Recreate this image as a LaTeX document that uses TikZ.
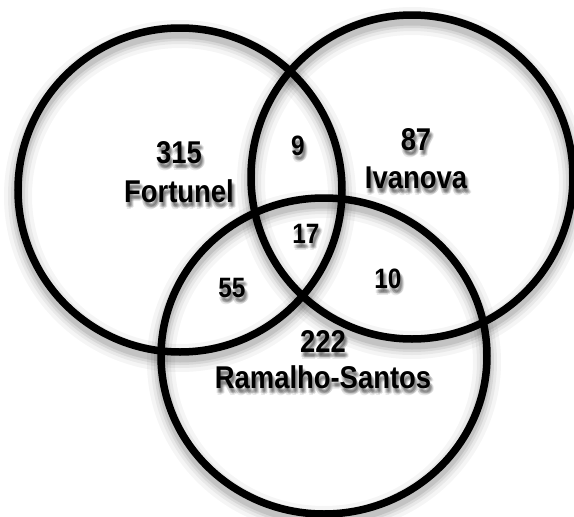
\documentclass[tikz,border=0pt]{standalone}
\usepackage{fontspec}
\newfontfamily\vf{Liberation Sans}[FakeStretch=0.87]
\tikzset{
  ring/.style={draw=black, line width=7.5pt},
  ringshadow/.style={draw=black, line width=#1},
  lbl/.style={anchor=base, inner sep=0pt, font=\vf\bfseries\fontsize{31.5}{31.5}\selectfont},
  num/.style={anchor=base, inner sep=0pt, font=\vf\bfseries\fontsize{28}{28}\selectfont},
}
\newcommand\cp[3]{\makebox[0pt][l]{\hspace*{#1pt}\raisebox{-#2pt}{#3}}}
\newcommand\shtxt[5]{% name, style, x, y, text
  \node[#2, text=black, text opacity=0.09] (#1s) at (#3,#4)
    {\cp{1}{4}{#5}\cp{2}{5}{#5}\cp{3}{6}{#5}\cp{0}{5}{#5}\cp{2}{3}{#5}\cp{4}{5}{#5}\cp{1}{7}{#5}\cp{3}{4}{#5}\phantom{#5}};
  \node[#2] (#1) at (#3,#4) {#5};
}
\begin{document}
\begin{tikzpicture}[x=1pt,y=-1pt]
\useasboundingbox[fill=white] (0,0) rectangle (574,517);
% circle shadows
\foreach \w/\o in {28/0.04,20/0.05,14/0.07,9/0.09} {
  \draw[ringshadow=\w pt, opacity=\o] (180,196) ellipse [x radius=162, y radius=162];
  \draw[ringshadow=\w pt, opacity=\o] (412,183) ellipse [x radius=161, y radius=162];
  \draw[ringshadow=\w pt, opacity=\o] (324,362) ellipse [x radius=163, y radius=158];
}
% circles
\draw[ring] (180,190) ellipse [x radius=162, y radius=162];
\draw[ring] (412,177) ellipse [x radius=161, y radius=162];
\draw[ring] (324,356) ellipse [x radius=163, y radius=158];
% labels
\shtxt{fa}{lbl}{179}{163}{315}
\shtxt{fb}{lbl}{179}{202}{Fortunel}
\shtxt{ia}{lbl}{416}{150}{87}
\shtxt{ib}{lbl}{416}{188}{Ivanova}
\shtxt{ra}{lbl}{323}{352}{222}
\shtxt{rb}{lbl}{323}{388}{Ramalho-Santos}
\shtxt{fi}{num}{298}{155}{9}
\shtxt{fir}{num}{306}{243}{17}
\shtxt{fr}{num}{232}{297}{55}
\shtxt{ir}{num}{388}{288}{10}
\end{tikzpicture}
\end{document}
